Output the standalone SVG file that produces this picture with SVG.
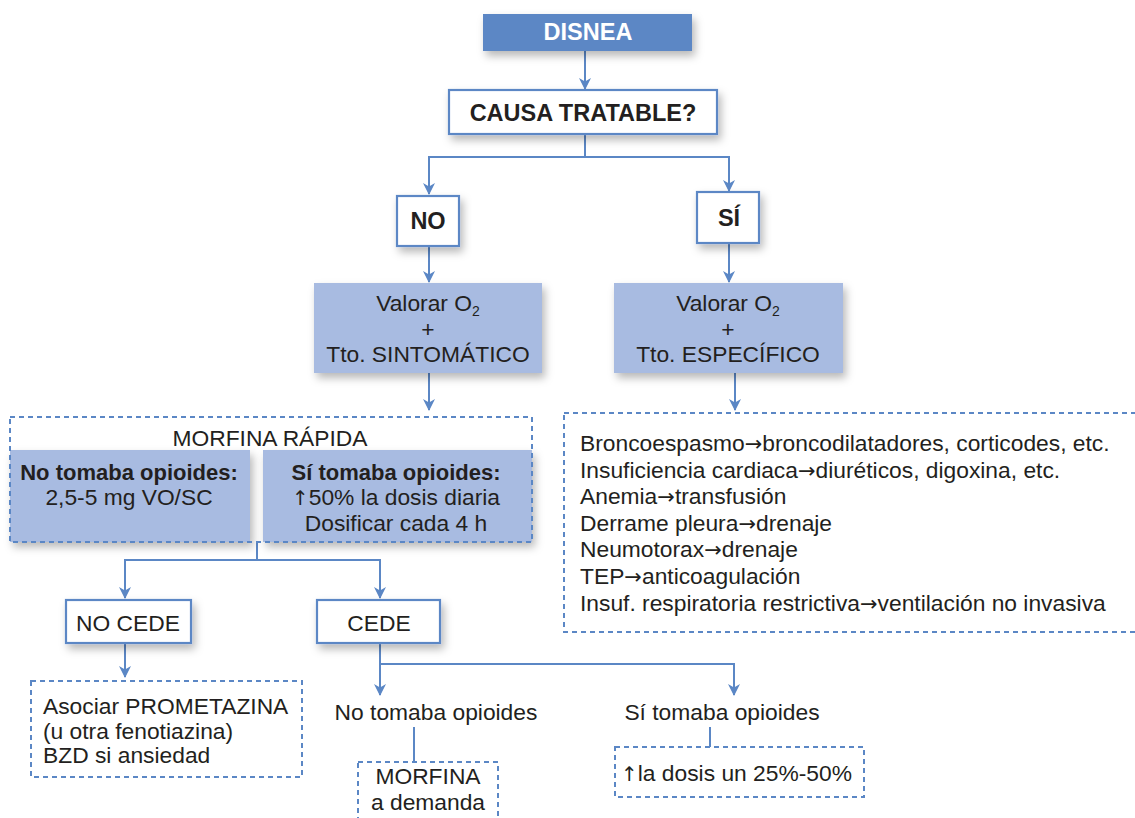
<svg xmlns="http://www.w3.org/2000/svg" width="1135" height="818" viewBox="0 0 1135 818">
<style>
text{font-family:"Liberation Sans",Arial,sans-serif;fill:#231f20;}
.t{font-size:22.8px;}
.b{font-size:22px;font-weight:bold;}
.h{font-size:23.5px;font-weight:bold;}
.c{text-anchor:middle;}
.ar{font-family:"DejaVu Sans",sans-serif;font-size:21px;}
.up{font-family:"DejaVu Sans",sans-serif;font-size:20px;}
.box{fill:#fff;stroke:#5b87c5;stroke-width:2.2;}
.fill{fill:#a8bbe1;}
.dash{fill:none;stroke:#5b87c5;stroke-width:2;stroke-dasharray:5 4;}
.ln{fill:none;stroke:#5b87c5;stroke-width:2;}
</style>
<defs>
<filter id="sh" x="-10%" y="-20%" width="130%" height="160%">
<feDropShadow dx="3" dy="5" stdDeviation="4" flood-color="#000" flood-opacity="0.28"/>
</filter>
<marker id="ar" viewBox="0 0 12 12" refX="11" refY="6" markerWidth="12" markerHeight="12" markerUnits="userSpaceOnUse" orient="auto">
<path d="M0,0 L12,6 L0,12 L3.5,6 z" fill="#5b87c5"/>
</marker>
</defs>

<g id="connectors">
<path class="ln" d="M585,51 V89" marker-end="url(#ar)"/>
<path class="ln" d="M585,134 V157 H429 V194" marker-end="url(#ar)"/>
<path class="ln" d="M585,157 H729 V191" marker-end="url(#ar)"/>
<path class="ln" d="M429,246 V282" marker-end="url(#ar)"/>
<path class="ln" d="M729,243 V282" marker-end="url(#ar)"/>
<path class="ln" d="M429,373 V410" marker-end="url(#ar)"/>
<path class="ln" d="M735,373 V410" marker-end="url(#ar)"/>
<path class="ln" d="M257,542 V560 H125 V598" marker-end="url(#ar)"/>
<path class="ln" d="M257,560 H380 V598" marker-end="url(#ar)"/>
<path class="ln" d="M125,643 V677" marker-end="url(#ar)"/>
<path class="ln" d="M380,643 V695" marker-end="url(#ar)"/>
<path class="ln" d="M380,664 H734 V695" marker-end="url(#ar)"/>
<path class="ln" d="M414,727 V762"/>
<path class="ln" d="M710,727 V747"/>
</g>

<g id="disnea">
<rect x="483" y="14" width="209" height="37" fill="#5b87c5" filter="url(#sh)"/>
<text x="588" y="40" class="h c" style="fill:#fff">DISNEA</text>
</g>

<g id="causa">
<rect x="449" y="90" width="268" height="44" class="box" filter="url(#sh)"/>
<text x="583" y="121" class="h c">CAUSA TRATABLE?</text>
</g>

<g id="no">
<rect x="397" y="196" width="62" height="50" class="box" filter="url(#sh)"/>
<text x="428" y="229" class="h c">NO</text>
</g>

<g id="si">
<rect x="697" y="192" width="62" height="51" class="box" filter="url(#sh)"/>
<text x="729" y="226" class="h c">SÍ</text>
</g>

<g id="valorar-sint">
<rect x="314" y="283" width="228" height="90" class="fill" filter="url(#sh)"/>
<text x="428" y="311" class="t c">Valorar O<tspan font-size="14" dy="5">2</tspan></text>
<text x="428" y="337" class="t c">+</text>
<text x="428" y="362" class="t c">Tto. SINTOMÁTICO</text>
</g>

<g id="valorar-esp">
<rect x="614" y="283" width="229" height="90" class="fill" filter="url(#sh)"/>
<text x="728" y="311" class="t c">Valorar O<tspan font-size="14" dy="5">2</tspan></text>
<text x="728" y="337" class="t c">+</text>
<text x="728" y="362" class="t c">Tto. ESPECÍFICO</text>
</g>

<g id="morfina">
<rect x="10" y="450" width="240" height="92" class="fill" filter="url(#sh)"/>
<rect x="263" y="450" width="269" height="92" class="fill" filter="url(#sh)"/>
<rect x="10" y="417" width="522" height="125" class="dash"/>
<text x="270" y="446" class="t c">MORFINA RÁPIDA</text>
<text x="129" y="480" class="b c">No tomaba opioides:</text>
<text x="129" y="505" class="t c">2,5-5 mg VO/SC</text>
<text x="396" y="480" class="b c">Sí tomaba opioides:</text>
<text x="396" y="505" class="t c"><tspan class="up">↑</tspan>50% la dosis diaria</text>
<text x="396" y="531" class="t c">Dosificar cada 4 h</text>
</g>

<g id="especifico">
<rect x="564" y="413" width="590" height="219" class="dash"/>
<text x="580" y="451" class="t">Broncoespasmo<tspan class="ar">→</tspan>broncodilatadores, corticodes, etc.</text>
<text x="580" y="478" class="t">Insuficiencia cardiaca<tspan class="ar">→</tspan>diuréticos, digoxina, etc.</text>
<text x="580" y="504" class="t">Anemia<tspan class="ar">→</tspan>transfusión</text>
<text x="580" y="531" class="t">Derrame pleura<tspan class="ar">→</tspan>drenaje</text>
<text x="580" y="557" class="t">Neumotorax<tspan class="ar">→</tspan>drenaje</text>
<text x="580" y="584" class="t">TEP<tspan class="ar">→</tspan>anticoagulación</text>
<text x="580" y="611" class="t">Insuf. respiratoria restrictiva<tspan class="ar">→</tspan>ventilación no invasiva</text>
</g>

<g id="nocede">
<rect x="66" y="600" width="125" height="43" class="box" filter="url(#sh)"/>
<text x="128" y="631" class="t c">NO CEDE</text>
</g>

<g id="cede">
<rect x="317" y="600" width="123" height="43" class="box" filter="url(#sh)"/>
<text x="379" y="631" class="t c">CEDE</text>
</g>

<g id="asociar">
<rect x="31" y="681" width="271" height="96" class="dash"/>
<text x="43" y="714" class="t">Asociar PROMETAZINA</text>
<text x="43" y="739" class="t">(u otra fenotiazina)</text>
<text x="43" y="763" class="t">BZD si ansiedad</text>
</g>

<g id="no-tomaba">
<text x="436" y="720" class="t c">No tomaba opioides</text>
</g>

<g id="si-tomaba">
<text x="722" y="720" class="t c">Sí tomaba opioides</text>
</g>

<g id="morfina-demanda">
<rect x="358" y="762" width="140" height="70" class="dash"/>
<text x="428" y="784" class="t c">MORFINA</text>
<text x="428" y="810" class="t c">a demanda</text>
</g>

<g id="aumentar">
<rect x="615" y="747" width="249" height="50" class="dash"/>
<text x="621" y="781" class="t"><tspan class="up">↑</tspan>la dosis un 25%-50%</text>
</g>
</svg>
